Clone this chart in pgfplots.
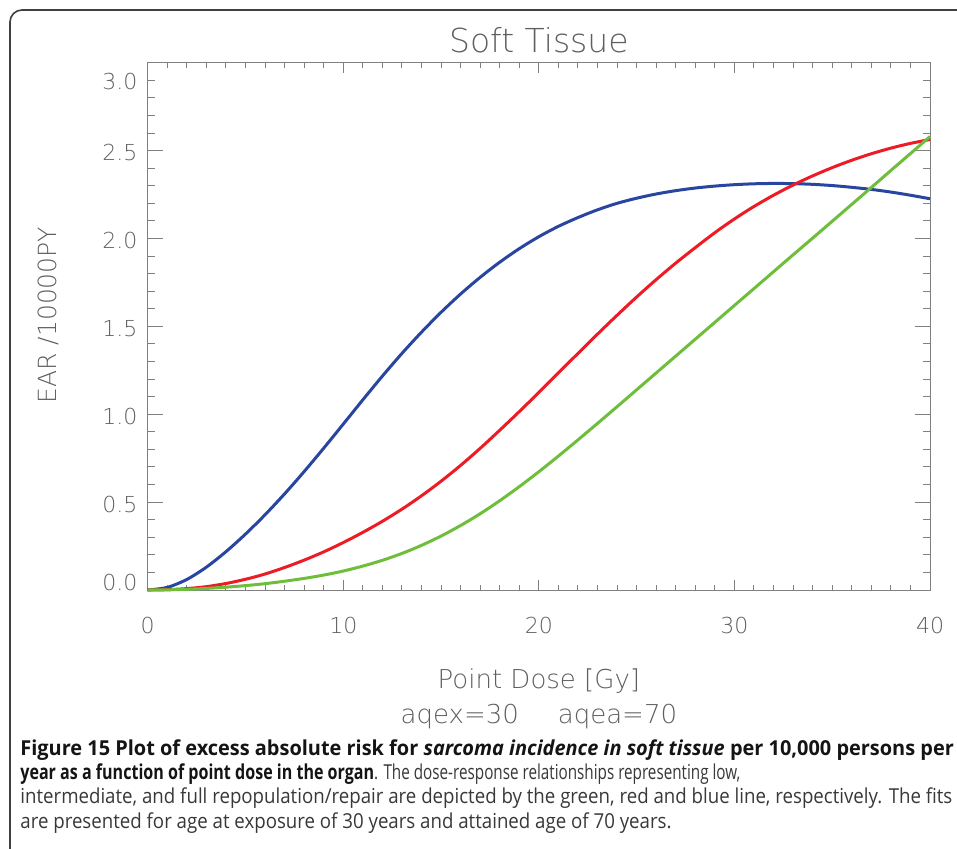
\documentclass[border=0pt]{standalone}
\usepackage{fontspec}
\usepackage{pgfplots}
\pgfplotsset{compat=1.18}
\usepackage{pgfplotstable}
\setmainfont{Open Sans}
\newfontfamily\chartfont{DejaVu Sans ExtraLight}
\newfontfamily\capreg{Open Sans}[FakeStretch=0.906]
\newfontfamily\capbold{Open Sans}[FakeStretch=0.968]
\newfontfamily\capregN{Open Sans}[FakeStretch=0.74]
\newfontfamily\capboldN{Open Sans}[FakeStretch=0.78]
\definecolor{cblue}{RGB}{40,70,160}
\definecolor{cred}{RGB}{237,28,36}
\definecolor{cgreen}{RGB}{110,190,60}
\definecolor{axgray}{RGB}{128,128,128}
\definecolor{txtgray}{RGB}{95,95,95}

\pgfplotstableread{
D  blue   red    green
0  0.000  0.000  0.000
1  0.015  0.002  0.001
2  0.060  0.008  0.004
3  0.130  0.019  0.009
4  0.218  0.037  0.016
5  0.318  0.061  0.025
6  0.428  0.091  0.036
7  0.547  0.128  0.050
8  0.674  0.170  0.066
9  0.807  0.217  0.085
10 0.944  0.270  0.108
11 1.082  0.328  0.136
12 1.217  0.391  0.169
13 1.346  0.460  0.208
14 1.467  0.536  0.254
15 1.580  0.619  0.307
16 1.684  0.709  0.367
17 1.779  0.806  0.434
18 1.865  0.909  0.508
19 1.942  1.015  0.588
20 2.010  1.124  0.673
21 2.069  1.235  0.762
22 2.119  1.346  0.854
23 2.163  1.456  0.948
24 2.200  1.563  1.043
25 2.229  1.667  1.139
26 2.253  1.766  1.235
27 2.272  1.860  1.331
28 2.287  1.948  1.427
29 2.298  2.033  1.523
30 2.306  2.111  1.619
31 2.311  2.182  1.715
32 2.313  2.246  1.811
33 2.312  2.304  1.907
34 2.308  2.356  2.002
35 2.301  2.403  2.098
36 2.291  2.445  2.194
37 2.279  2.482  2.290
38 2.264  2.514  2.387
39 2.246  2.541  2.483
40 2.226  2.563  2.580
}\datatable

\begin{document}
\begin{tikzpicture}
\useasboundingbox (0,0) rectangle (478.5pt,-424.5pt);
\draw[line width=0.8pt, black!75, rounded corners=6pt] (5pt,-5pt) rectangle (492pt,-434pt);

% axis carrying the x ticks
\begin{axis}[
  at={(73.85pt,-295pt)}, anchor=south west,
  scale only axis, width=391.15pt, height=263.65pt,
  xmin=0, xmax=40, ymin=0, ymax=3,
  axis line style={axgray, line width=0.5pt},
  xtick={0,10,20,30,40}, xticklabels={0,10,20,30,40},
  minor x tick num=9,
  ytick=\empty,
  tick align=inside,
  major tick length=5pt, minor tick length=2.5pt,
  every tick/.style={axgray, line width=0.5pt},
  xticklabel style={font=\chartfont\fontsize{11}{13}\selectfont, text=txtgray, yshift=-10.3pt},
]
\end{axis}

% axis carrying the y ticks, labels and curves
\begin{axis}[
  at={(73.85pt,-295pt)}, anchor=south west,
  scale only axis, width=391.15pt, height=263.65pt,
  xmin=0, xmax=40, ymin=0, ymax=3,
  axis line style={axgray, line width=0.5pt},
  xtick=\empty,
  ytick={0,0.5,1,1.5,2,2.5,3}, yticklabels={,0.5,1.0,1.5,2.0,2.5,},
  minor y tick num=4,
  tick align=inside,
  major tick length=7.5pt, minor tick length=3.7pt,
  every tick/.style={axgray, line width=0.5pt},
  yticklabel style={font=\chartfont\fontsize{11}{13}\selectfont, text=txtgray, xshift=-1.65pt, yshift=-1pt},
  title={Soft Tissue},
  every axis title/.style={at={(0.5,1)}, anchor=center, yshift=11.35pt, font=\chartfont\fontsize{16.5}{19}\selectfont, text=txtgray},
  xlabel={Point Dose [Gy]},
  every axis x label/.style={at={(0.5,0)}, anchor=base, yshift=-49pt, font=\chartfont\fontsize{13}{15}\selectfont, text=txtgray},
  ylabel={EAR /10000PY},
  every axis y label/.style={at={(0,0.5)}, anchor=center, xshift=-49.85pt, yshift=5.5pt, rotate=90, font=\chartfont\fontsize{12.5}{15}\selectfont, text=txtgray},
  clip=false,
]
\addplot[cblue, line width=1.5pt, smooth] table[x=D, y=blue] {\datatable};
\addplot[cred, line width=1.5pt, smooth] table[x=D, y=red] {\datatable};
\addplot[cgreen, line width=1.5pt, smooth] table[x=D, y=green] {\datatable};
\node[anchor=east, font=\chartfont\fontsize{11}{13}\selectfont, text=txtgray, xshift=-1.65pt, yshift=4pt] at (rel axis cs:0,0) {0.0};
\node[anchor=east, font=\chartfont\fontsize{11}{13}\selectfont, text=txtgray, xshift=-1.65pt, yshift=-9.5pt] at (rel axis cs:0,1) {3.0};
\node[anchor=base, font=\chartfont\fontsize{13}{15}\selectfont, text=txtgray, yshift=-66.5pt] at (rel axis cs:0.5,0) {aqex=30\hspace{19.5pt}aqea=70};
\end{axis}

\node[anchor=base west, align=left, inner sep=0pt, font=\capreg\fontsize{10.3}{12.15}\selectfont, text=black!78] at (10pt,-414pt)
{{\capbold\bfseries\color{black!92}Figure 15 Plot of excess absolute risk for \textit{sarcoma incidence in soft tissue} per 10,000 persons per}\\
{\capboldN\bfseries\color{black!92}year as a function of point dose in the organ}{\capregN. The dose-response relationships representing low,}\\
intermediate, and full repopulation/repair are depicted by the green, red and blue line, respectively. The fits\\
are presented for age at exposure of 30 years and attained age of 70 years.};
\end{tikzpicture}
\end{document}
